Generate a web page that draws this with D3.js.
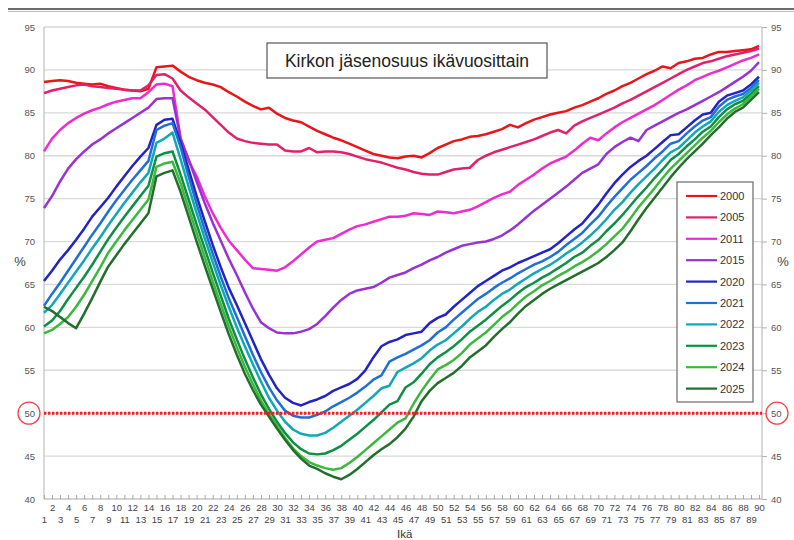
<!DOCTYPE html>
<html>
<head>
<meta charset="utf-8">
<script src="https://cdn.jsdelivr.net/npm/d3@7"></script>
<style>
  body { margin: 0; background: #fff; font-family: "Liberation Sans", Arial, sans-serif; }
</style>
</head>
<body>
<div class="chart-container"></div>
<script>
// ages on the x axis
const ages = d3.range(1, 91);
const years = ["2000", "2005", "2011", "2015", "2020", "2021", "2022", "2023", "2024", "2025"];
const yTicks = [40, 45, 50, 55, 60, 65, 70, 75, 80, 85, 90, 95];

// membership share (%) by age
const s2000 = [88.6,88.7,88.8,88.7,88.5,88.4,88.3,88.4,88.1,87.9, 87.7,87.6,87.5,87.8,90.3,90.4,90.5,89.8,89.2,88.8, 88.5,88.3,88.0,87.4,86.9,86.3,85.8,85.4,85.6,84.9, 84.4,84.1,83.9,83.4,82.9,82.5,82.1,81.8,81.4,81.0, 80.6,80.2,80.0,79.8,79.7,79.9,80.0,79.8,80.3,80.9, 81.3,81.7,81.9,82.2,82.3,82.5,82.8,83.1,83.6,83.3, 83.8,84.2,84.5,84.8,85.0,85.2,85.6,85.9,86.3,86.7, 87.2,87.6,88.1,88.5,89.0,89.5,89.9,90.4,90.2,90.8, 91.0,91.3,91.4,91.8,92.1,92.1,92.2,92.3,92.4,92.8];
const s2005 = [87.3,87.6,87.8,88.0,88.2,88.3,88.1,88.0,87.9,87.8, 87.7,87.6,87.6,88.2,89.4,89.5,89.0,87.6,86.8,86.1, 85.4,84.5,83.6,82.7,82.0,81.7,81.5,81.4,81.3,81.3, 80.6,80.5,80.5,80.9,80.4,80.5,80.5,80.4,80.2,79.9, 79.6,79.4,79.2,78.9,78.6,78.4,78.1,77.9,77.8,77.8, 78.1,78.4,78.5,78.6,79.5,80.0,80.4,80.7,81.0,81.3, 81.6,81.9,82.3,82.7,83.0,82.6,83.5,84.0,84.4,84.8, 85.2,85.6,86.1,86.5,87.0,87.5,88.0,88.5,89.0,89.5, 90.0,90.4,90.8,91.0,91.3,91.6,91.8,92.0,92.2,92.5];
const s2011 = [80.5,82.0,83.0,83.8,84.4,84.9,85.3,85.6,86.0,86.3, 86.5,86.7,86.7,87.4,88.3,88.4,88.1,82.0,79.4,77.6, 75.3,73.3,71.6,70.1,69.0,67.9,66.9,66.8,66.7,66.6, 67.0,67.7,68.5,69.3,70.0,70.2,70.4,70.9,71.4,71.8, 72.0,72.3,72.6,72.9,72.9,73.0,73.3,73.2,73.1,73.5, 73.4,73.3,73.5,73.7,74.1,74.6,75.1,75.5,75.8,76.6, 77.2,77.8,78.5,79.1,79.5,79.9,80.6,81.4,82.1,81.8, 82.6,83.3,83.9,84.4,84.9,85.4,85.9,86.5,87.1,87.7, 88.2,88.8,89.2,89.6,89.9,90.3,90.7,91.1,91.4,91.8];
const s2015 = [73.9,75.3,77.0,78.5,79.6,80.5,81.3,81.9,82.6,83.2, 83.8,84.4,85.0,85.6,86.6,86.7,86.7,82.0,79.6,77.0, 74.5,72.2,70.1,68.0,66.1,64.1,62.2,60.6,59.9,59.4, 59.3,59.3,59.5,59.8,60.4,61.3,62.3,63.2,63.9,64.3, 64.5,64.7,65.2,65.8,66.1,66.4,66.9,67.3,67.8,68.2, 68.7,69.1,69.5,69.7,69.9,70.0,70.3,70.7,71.3,72.0, 72.8,73.6,74.3,75.0,75.7,76.4,77.2,78.0,78.5,79.0, 80.2,81.0,81.6,82.1,81.7,83.0,83.5,84.0,84.5,85.0, 85.4,85.9,86.4,86.9,87.4,88.0,88.6,89.2,89.9,90.9];
const s2020 = [65.4,66.6,67.9,69.0,70.2,71.5,72.9,74.0,75.1,76.4, 77.6,78.8,79.9,80.9,83.6,84.2,84.3,81.5,78.4,75.3, 72.4,69.6,67.0,64.6,62.6,60.5,58.4,56.3,54.5,52.9, 51.8,51.2,50.9,51.3,51.6,52.0,52.6,53.0,53.4,54.0, 55.0,56.5,57.8,58.3,58.6,59.1,59.3,59.5,60.5,61.1, 61.5,62.4,63.2,64.0,64.8,65.4,66.0,66.6,67.0,67.5, 67.9,68.3,68.7,69.1,69.8,70.6,71.4,72.1,73.2,74.3, 75.6,76.8,77.8,78.7,79.4,80.0,80.8,81.6,82.4,82.5, 83.3,84.1,84.8,85.0,86.3,87.0,87.3,87.6,88.3,89.2];
const s2021 = [62.5,63.9,65.2,66.6,68.0,69.4,70.8,72.1,73.5,74.8, 76.0,77.2,78.3,79.4,83.0,83.5,83.8,81.0,77.6,74.4, 71.4,68.6,65.9,63.4,61.2,59.0,56.8,54.8,53.0,51.5, 50.3,49.7,49.5,49.5,49.8,50.2,50.8,51.3,51.8,52.4, 53.1,53.9,54.4,56.0,56.5,56.9,57.4,57.9,58.5,59.4, 60.0,60.9,61.7,62.5,63.3,63.9,64.6,65.2,65.7,66.3, 66.8,67.3,67.7,68.2,68.8,69.6,70.3,71.0,72.0,72.9, 74.1,75.2,76.2,77.2,78.0,78.8,79.7,80.5,81.4,81.7, 82.6,83.4,84.1,84.5,85.7,86.5,86.9,87.2,87.9,88.8];
const s2022 = [61.7,62.6,63.9,65.2,66.5,67.8,69.2,70.5,71.9,73.2, 74.5,75.7,76.9,78.0,81.5,82.0,82.7,79.6,76.4,73.3, 70.4,67.6,64.9,62.4,60.0,57.8,55.7,53.7,51.8,50.3, 49.0,48.1,47.6,47.4,47.4,47.7,48.3,49.0,49.7,50.4, 51.2,52.0,52.9,53.2,54.8,55.3,55.8,56.4,57.3,58.0, 58.5,59.3,60.1,61.0,61.8,62.4,63.2,63.9,64.4,65.1, 65.7,66.3,66.8,67.3,67.9,68.6,69.2,69.9,70.7,71.6, 72.6,73.7,74.6,75.7,76.7,77.6,78.5,79.5,80.4,80.9, 81.8,82.7,83.4,84.0,85.1,85.9,86.4,86.8,87.6,88.5];
const s2023 = [60.1,60.8,61.9,63.3,64.6,65.9,67.3,68.8,70.3,71.6, 72.9,74.1,75.3,76.5,79.9,80.3,80.5,77.8,74.9,72.0, 69.2,66.4,63.7,61.0,58.6,56.3,54.2,52.2,50.5,49.0, 47.7,46.6,45.8,45.3,45.2,45.3,45.7,46.2,46.9,47.6, 48.4,49.2,50.1,51.0,51.4,53.0,53.6,54.6,55.7,56.5, 57.1,57.8,58.6,59.5,60.2,60.9,61.7,62.5,63.2,64.0, 64.7,65.2,65.8,66.3,66.9,67.5,68.2,68.7,69.5,70.2, 71.2,72.1,73.1,74.2,75.3,76.3,77.4,78.4,79.5,80.2, 81.1,81.9,82.8,83.4,84.5,85.4,86.0,86.4,87.2,88.1];
const s2024 = [59.3,59.7,60.4,61.2,62.4,63.8,65.4,67.0,68.7,70.0, 71.3,72.5,73.7,74.9,78.7,79.1,79.3,76.8,73.9,71.0, 68.2,65.4,62.7,60.1,57.7,55.4,53.4,51.5,49.9,48.5, 47.1,45.9,45.0,44.3,43.9,43.6,43.4,43.6,44.2,44.9, 45.7,46.5,47.3,48.1,48.9,49.4,51.1,52.6,53.9,55.1, 55.6,56.2,57.0,58.0,58.7,59.4,60.3,61.2,61.9,62.8, 63.6,64.2,64.9,65.4,66.0,66.5,67.1,67.6,68.2,68.9, 69.7,70.6,71.5,72.7,74.0,75.1,76.2,77.4,78.5,79.4, 80.3,81.2,82.1,82.9,83.9,84.8,85.5,86.0,86.9,87.8];
const s2025 = [62.4,61.9,61.2,60.5,59.9,61.6,63.4,65.3,67.1,68.4, 69.7,70.9,72.1,73.3,77.6,78.0,78.3,75.8,72.9,70.0, 67.2,64.5,61.8,59.2,56.8,54.6,52.7,51.0,49.6,48.2, 46.9,45.7,44.7,43.9,43.5,43.0,42.6,42.3,42.8,43.5, 44.3,45.1,45.8,46.4,47.2,48.2,49.6,51.4,52.6,53.5, 54.1,54.7,55.5,56.5,57.2,57.9,58.9,59.8,60.6,61.6, 62.5,63.2,63.9,64.5,65.0,65.5,66.0,66.5,67.0,67.5, 68.2,69.0,69.9,71.2,72.6,73.9,75.1,76.3,77.5,78.6, 79.6,80.5,81.4,82.4,83.3,84.3,85.1,85.6,86.5,87.4];

const threshold = 50;

const allSeries = [s2000, s2005, s2011, s2015, s2020, s2021, s2022, s2023, s2024, s2025];
const color = d3.scaleOrdinal(years, ["#e8151b", "#e2216b", "#ee2bd0", "#9633d2", "#2323c6",
                                       "#1f6fd6", "#12a7b4", "#0c9044", "#3cb83e", "#216f2a"]);

const svg_width = 794;
const svg_height = 540;
const chart_margin = {top: 27, right: 32, bottom: 41, left: 44};
const chart_width = svg_width - (chart_margin.left + chart_margin.right);
const chart_height = svg_height - (chart_margin.top + chart_margin.bottom);

const svg = d3.select('.chart-container').append('svg')
    .attr('width', svg_width).attr('height', svg_height)
    .style('font-family', '"Liberation Sans", Arial, sans-serif');

// dark rule at the very top
svg.append('line').attr('x1', 8).attr('x2', svg_width).attr('y1', 9).attr('y2', 9)
    .attr('stroke', '#6b6b6b').attr('stroke-width', 2);
svg.append('line').attr('x1', 8).attr('x2', svg_width).attr('y1', 11.5).attr('y2', 11.5)
    .attr('stroke', '#bdbdbd').attr('stroke-width', 1);

const g = svg.append('g')
    .attr('transform', `translate(${chart_margin.left},${chart_margin.top})`);

const xScale = d3.scaleLinear([1, 90], [0, chart_width - 3]);
const yScale = d3.scaleLinear([40, 95], [chart_height, 0]);

// gridlines
g.append('g').attr('class', 'grid')
    .selectAll('line').data(yTicks.filter(d => d > 40)).join('line')
    .attr('x1', 0).attr('x2', chart_width)
    .attr('y1', d => yScale(d)).attr('y2', d => yScale(d))
    .attr('stroke', '#d9d9d9').attr('stroke-width', 1.3);

// frame lines
g.append('line').attr('x1', 0).attr('x2', 0).attr('y1', 0).attr('y2', chart_height)
    .attr('stroke', '#c4c4c4').attr('stroke-width', 1.3);
g.append('line').attr('x1', chart_width).attr('x2', chart_width).attr('y1', 0).attr('y2', chart_height)
    .attr('stroke', '#c4c4c4').attr('stroke-width', 1.3);
g.append('line').attr('x1', 0).attr('x2', chart_width).attr('y1', chart_height).attr('y2', chart_height)
    .attr('stroke', '#c4c4c4').attr('stroke-width', 1.3);

// y axes
const yAxisLeft = d3.axisLeft(yScale).tickValues(yTicks).tickSize(0).tickPadding(9);
const yLeft = g.append('g').attr('class', 'y axis').call(yAxisLeft);
const yAxisRight = d3.axisRight(yScale).tickValues(yTicks).tickSizeInner(5).tickSizeOuter(0).tickPadding(4);
const yRight = g.append('g').attr('class', 'y axis')
    .attr('transform', `translate(${chart_width},0)`).call(yAxisRight);
[yLeft, yRight].forEach(a => {
    a.select('.domain').remove();
    a.selectAll('line').attr('stroke', '#b0b0b0');
    a.selectAll('text').attr('fill', '#555').style('font-size', '9.5px')
        .style('font-family', '"Liberation Sans", Arial, sans-serif');
});

// x axis: small inside ticks at every age, labels in two rows
const xTicks = g.append('g').attr('transform', `translate(0,${chart_height})`)
    .call(d3.axisTop(xScale).tickValues(ages).tickSizeInner(4).tickSizeOuter(0).tickFormat(''));
xTicks.select('.domain').remove();
xTicks.selectAll('line').attr('stroke', '#a8a8a8');

const xEven = g.append('g').attr('transform', `translate(0,${chart_height + 4})`)
    .call(d3.axisBottom(xScale).tickValues(ages.filter(a => a % 2 === 0)).tickSize(0).tickPadding(1));
const xOdd = g.append('g').attr('transform', `translate(0,${chart_height + 16})`)
    .call(d3.axisBottom(xScale).tickValues(ages.filter(a => a % 2 === 1)).tickSize(0).tickPadding(1));
[xEven, xOdd].forEach(a => {
    a.select('.domain').remove();
    a.selectAll('text').attr('fill', '#444').style('font-size', '9.5px')
        .style('font-family', '"Liberation Sans", Arial, sans-serif');
});

// series lines
const line = d3.line().x((d, i) => xScale(ages[i])).y(d => yScale(d));
g.append('g').attr('class', 'lines')
    .selectAll('path').data(allSeries).join('path')
    .attr('d', d => line(d))
    .attr('fill', 'none')
    .attr('stroke', (d, i) => color(years[i]))
    .attr('stroke-width', 2.5)
    .attr('stroke-linejoin', 'round');

// 50 % line
g.append('line')
    .attr('x1', 0).attr('x2', chart_width)
    .attr('y1', yScale(threshold)).attr('y2', yScale(threshold))
    .attr('stroke', '#f51d1d').attr('stroke-width', 3)
    .attr('stroke-dasharray', '2.4,1.6');

// red rings around the 50 labels
g.append('circle').attr('cx', -15).attr('cy', yScale(threshold)).attr('r', 11)
    .attr('fill', 'none').attr('stroke', '#f04848').attr('stroke-width', 1.3);
g.append('circle').attr('cx', chart_width + 15).attr('cy', yScale(threshold)).attr('r', 11)
    .attr('fill', 'none').attr('stroke', '#f04848').attr('stroke-width', 1.3);

// % labels
g.append('text').attr('x', -24).attr('y', 239).attr('fill', '#444')
    .style('font-size', '13px').style('text-anchor', 'middle').text('%');
g.append('text').attr('x', chart_width + 21).attr('y', 239).attr('fill', '#444')
    .style('font-size', '13px').style('text-anchor', 'middle').text('%');

// x title
svg.append('text').attr('x', 397).attr('y', 538).attr('fill', '#333')
    .style('font-size', '11.5px').text('Ikä');

// title box
const title = svg.append('g').attr('class', 'chart-title');
title.append('rect').attr('x', 267).attr('y', 43).attr('width', 280).attr('height', 35)
    .attr('fill', '#fff').attr('stroke', '#555').attr('stroke-width', 1.2);
title.append('text').attr('x', 407).attr('y', 67).attr('fill', '#222')
    .style('font-size', '17.5px').style('text-anchor', 'middle')
    .text('Kirkon jäsenosuus ikävuosittain');

// legend
const legend = svg.append('g').attr('class', 'legend').attr('transform', 'translate(677,182)');
legend.append('rect').attr('width', 76).attr('height', 220)
    .attr('fill', '#fff').attr('stroke', '#6a6a6a').attr('stroke-width', 1.2);
const item = legend.selectAll('.item').data(years).join('g')
    .attr('class', 'item')
    .attr('transform', (d, i) => `translate(0,${14 + i * 21.4})`);
item.append('line').attr('x1', 9).attr('x2', 40)
    .attr('stroke', d => color(d)).attr('stroke-width', 2.2);
item.append('text').attr('x', 43).attr('y', 4).attr('fill', '#333')
    .style('font-size', '11px').text(d => d);
</script>
</body>
</html>
